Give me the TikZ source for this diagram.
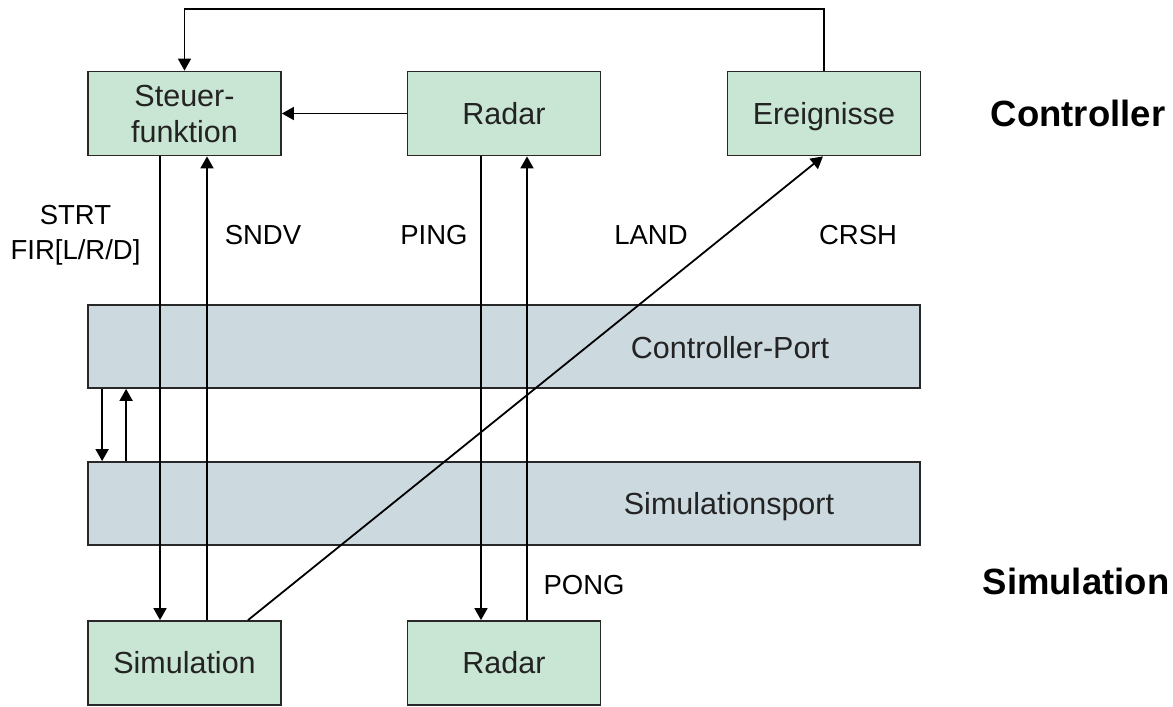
\documentclass[tikz,border=0pt]{standalone}
\usepackage{fontspec}
\setmainfont{Liberation Sans}
\usetikzlibrary{arrows.meta}
\definecolor{boxgreen}{RGB}{201,229,212}
\definecolor{portgray}{RGB}{204,217,223}
\definecolor{edgegray}{RGB}{40,40,40}
\definecolor{txtgray}{RGB}{35,35,35}
\tikzset{
  basebox/.style={draw=edgegray, line width=1.8pt, fill=boxgreen, minimum width=193pt, minimum height=84pt, inner sep=0pt, align=center, text=txtgray, font=\fontsize{30.5}{36}\selectfont},
  fbox/.style={basebox, text height=21.5pt, text depth=0pt},
  pbox/.style={draw=edgegray, line width=1.8pt, fill=portgray, minimum width=832pt, minimum height=83pt, inner sep=0pt},
  ptext/.style={anchor=base, inner sep=0pt, text=txtgray, font=\fontsize{30.5}{36}\selectfont},
  lbl/.style={anchor=base, inner sep=0pt, font=\fontsize{27.5}{33}\selectfont},
  head/.style={anchor=base, inner sep=0pt, font=\fontsize{36.5}{44}\selectfont\bfseries},
  arr/.style={line width=1.8pt, -{Triangle[length=12pt,width=13pt]}}
}
\begin{document}
\begin{tikzpicture}[x=1pt,y=-1pt]
\useasboundingbox (0,0) rectangle (1173,707);
% ports
\node[pbox] (cp) at (504,346.5) {};
\node[pbox] (sp) at (504,503.5) {};
\node[ptext] (cpt) at (730,358) {Controller-Port};
\node[ptext] (spt) at (729,514) {Simulationsport};
% boxes
\node[basebox] (stf) at (184.5,113.5) {Steuer-\\funktion};
\node[fbox] (rt) at (504,113.5) {Radar};
\node[fbox] (ev) at (824,113.5) {Ereignisse};
\node[fbox] (sim) at (184.5,663) {Simulation};
\node[fbox] (rb) at (504,663) {Radar};
% headings
\node[head] (hc) at (1078,126) {Controller};
\node[head] (hs) at (1076,594) {Simulation};
% labels
\node[lbl] (l1) at (75.5,224) {STRT};
\node[lbl] (l2) at (75.5,259) {FIR[L/R/D]};
\node[lbl] (l3) at (263,244) {SNDV};
\node[lbl] (l4) at (434,244) {PING};
\node[lbl] (l5) at (651,244) {LAND};
\node[lbl] (l6) at (858,244) {CRSH};
\node[lbl] (l7) at (584,594) {PONG};
% connectors
\coordinate (top) at (0,9);
\draw[arr] (ev.north) -- (ev.north |- top) -- (stf.north |- top) -- (stf.north);
\draw[arr] (rt.west) -- (stf.east);
\draw[arr] ([xshift=-24.5pt]stf.south) -- ([xshift=-24.5pt]sim.north);
\draw[arr] ([xshift=22.5pt]sim.north) -- ([xshift=22.5pt]stf.south);
\draw[arr] ([xshift=-23pt]rt.south) -- ([xshift=-23pt]rb.north);
\draw[arr] ([xshift=23pt]rb.north) -- ([xshift=23pt]rt.south);
\draw[arr] ([xshift=63.5pt]sim.north) -- ([xshift=-1pt]ev.south);
\draw[arr] ([xshift=15pt]cp.south west) -- ([xshift=15pt]sp.north west);
\draw[arr] ([xshift=39pt]sp.north west) -- ([xshift=39pt]cp.south west);
\end{tikzpicture}
\end{document}
